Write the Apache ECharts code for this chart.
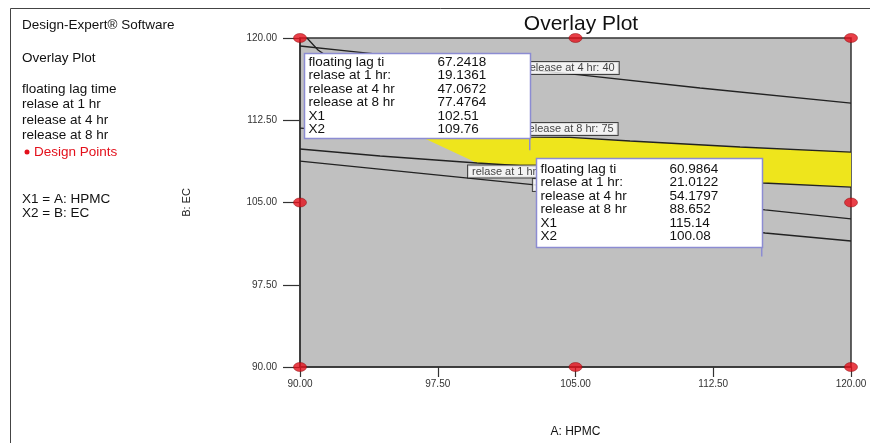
<!DOCTYPE html>
<html><head><meta charset="utf-8">
<script src="https://cdn.jsdelivr.net/npm/echarts@6/dist/echarts.min.js"></script>
<style>html,body{margin:0;padding:0;background:#fff}#c{width:870px;height:443px}</style>
</head><body><div id="c"></div>
<script>
// ---------- data ----------
const xTicks = [90, 97.5, 105, 112.5, 120];
const yTicks = [90, 97.5, 105, 112.5, 120];
const designPoints = [[90,120],[105,120],[120,120],[90,105],[105,105],[120,105],[90,90],[105,90],[120,90]];
const release4hr = [[90,119.27],[93.16,118.72],[105.24,116.63],[111.78,115.44],[120,114.07]];
const lagTimeUpper = [[90.38,120],[90.98,118.91],[91.91,117.82]];
const release8hr = [[90,111.79],[96.70,111.15],[102.52,110.97],[104.70,110.93],[107.97,110.61],[113.96,110.06],[120,109.60]];
const release1hr = [[90,109.88],[94.36,109.24],[99.64,108.60],[103.07,108.24],[109.06,107.51],[115.21,106.78],[120,106.41]];
const lagTimeLower = [[90,108.78],[102.79,106.60],[115.32,104.32],[120,103.50]];
const release1hrLower = [[104.16,104.77],[115.32,102.22],[120,101.49]];
const feasibleRegion = [[96.32,111.20],[102.52,110.97],[104.70,110.93],[107.97,110.61],[113.96,110.06],[120,109.60],
                        [120,106.41],[115.21,106.78],[109.06,107.51],[103.07,108.24],[99.64,108.60]];
const contourLabelNames = ['release at 4 hr: 40','release at 8 hr: 75','relase at 1 hr: 20','floating lag time: 60'];
const contourLabelAt = [[102.09,117.26],[102.03,111.70],[99.15,107.82],[102.68,106.59]];
const flagNames = ['floating lag ti','relase at 1 hr:','release at 4 hr','release at 8 hr','X1','X2'];
const flag1Values = ['67.2418','19.1361','47.0672','77.4764','102.51','109.76'];
const flag2Values = ['60.9864','21.0122','54.1797','88.652','115.14','100.08'];
const legendLines = ['floating lag time','relase at 1 hr','release at 4 hr','release at 8 hr'];

// ---------- chart ----------
const FONT = "'Liberation Sans', Arial, sans-serif";
const chart = echarts.init(document.getElementById('c'), null, {renderer:'canvas'});
const lineStyle = {color:'#222', width:1.3};
function contour(data){ return {type:'line', data, symbol:'none', lineStyle, z:3, silent:true}; }
const flag1 = [parseFloat(flag1Values[4]), parseFloat(flag1Values[5])];
const flag2 = [parseFloat(flag2Values[4]), parseFloat(flag2Values[5])];

chart.setOption({
  animation:false,
  backgroundColor:'#fff',
  title:{text:'Overlay Plot', left:576, top:9, textAlign:'center',
    textStyle:{fontSize:21, fontWeight:'normal', color:'#111', fontFamily:FONT}},
  grid:{left:300, top:38, width:551, height:329, show:true, backgroundColor:'#c0c0c0', borderColor:'#333', borderWidth:1.5},
  xAxis:{type:'value', min:xTicks[0], max:xTicks[xTicks.length-1], interval:xTicks[1]-xTicks[0],
    name:'A: HPMC', nameLocation:'middle', nameGap:59, nameTextStyle:{fontSize:12, color:'#111', fontFamily:FONT},
    axisLine:{lineStyle:{color:'#333', width:1.5}}, axisTick:{length:10, lineStyle:{color:'#333', width:1.2}},
    axisLabel:{formatter:v=>v.toFixed(2), fontSize:10, color:'#333', margin:12, fontFamily:FONT, showMaxLabel:true, showMinLabel:true},
    splitLine:{show:false}},
  yAxis:{type:'value', min:yTicks[0], max:yTicks[yTicks.length-1], interval:yTicks[1]-yTicks[0],
    name:'B: EC', nameLocation:'middle', nameGap:108, nameRotate:90, nameTextStyle:{fontSize:11, color:'#222', fontFamily:FONT},
    axisLine:{lineStyle:{color:'#333', width:1.5}}, axisTick:{length:17, lineStyle:{color:'#333', width:1.2}},
    axisLabel:{formatter:v=>v.toFixed(2), fontSize:10, color:'#333', margin:23, fontFamily:FONT},
    splitLine:{show:false}},
  series:[
    {type:'custom', z:1, silent:true, data:[[0]],
      renderItem:(params, api)=>{
        const pts = feasibleRegion.map(p=>api.coord(p));
        return {type:'polygon', shape:{points:pts}, style:{fill:'#eee51c'}};
      }},
    contour(release4hr), contour(lagTimeUpper), contour(release8hr), contour(release1hr),
    contour(lagTimeLower), contour(release1hrLower),
    {type:'line', data:[flag1,[flag1[0],flag1[1]+4]], symbol:'none', lineStyle:{color:'#8c8cd2', width:1.5}, z:4},
    {type:'line', data:[flag2,[flag2[0],flag2[1]+4]], symbol:'none', lineStyle:{color:'#8c8cd2', width:1.5}, z:4},
    {type:'scatter', symbolSize:0, z:5, silent:true,
      data:contourLabelNames.map((n,i)=>({name:n, value:contourLabelAt[i]})),
      label:{show:true, formatter:'{b}', position:'right', distance:0, backgroundColor:'#fff', borderColor:'#222', borderWidth:1,
        padding:[1,4,0,4], fontSize:11, color:'#111', fontFamily:FONT}},
    {type:'scatter', data:designPoints, symbol:'circle', symbolSize:[13,9], clip:false, z:6,
      itemStyle:{color:'#e3101b', borderColor:'#8a0a0a', borderWidth:0.6}}
  ]
});

function flagBox(flag, values, bottomGap, height){
  const [px, py] = chart.convertToPixel({gridIndex:0}, flag);
  const w = 226, right = Math.round(px)+0.5, bottom = Math.round(py - bottomGap)+0.5;
  const left = right - w, top = bottom - height;
  const start = top + (height - 5*13.5)/2;
  const els = [{type:'rect', shape:{x:left, y:top, width:w, height}, style:{fill:'#fff', stroke:'#8c8cd2', lineWidth:1.5}, z:100}];
  flagNames.forEach((n,i)=>{
    els.push({type:'text', x:left+4, y:start+i*13.5, z:101, style:{text:n, fill:'#111', font:'13.5px '+FONT, textVerticalAlign:'middle'}});
    els.push({type:'text', x:left+133, y:start+i*13.5, z:101, style:{text:values[i], fill:'#111', font:'13.5px '+FONT, textVerticalAlign:'middle'}});
  });
  return els;
}

const panel = [];
function ptext(t, x, y, color){ panel.push({type:'text', x, y, z:50, style:{text:t, fill:color||'#111', font:'13.5px '+FONT, textVerticalAlign:'middle'}}); }
ptext('Design-Expert® Software', 22, 25);
ptext('Overlay Plot', 22, 58);
legendLines.forEach((t,i)=>ptext(t, 22, 89+i*15.5));
panel.push({type:'circle', shape:{cx:27, cy:152, r:2.5}, style:{fill:'#e3101b'}, z:50});
ptext('Design Points', 34, 152, '#e3101b');
ptext('X1 = A: HPMC', 22, 199);
ptext('X2 = B: EC', 22, 213);
panel.push({type:'polyline', shape:{points:[[10.5,460],[10.5,8.5],[880,8.5]]}, style:{stroke:'#444', lineWidth:1, fill:null}, z:50});

chart.setOption({graphic:[...panel, ...flagBox(flag1, flag1Values, 12, 85), ...flagBox(flag2, flag2Values, 9, 89)]});
</script></body></html>
